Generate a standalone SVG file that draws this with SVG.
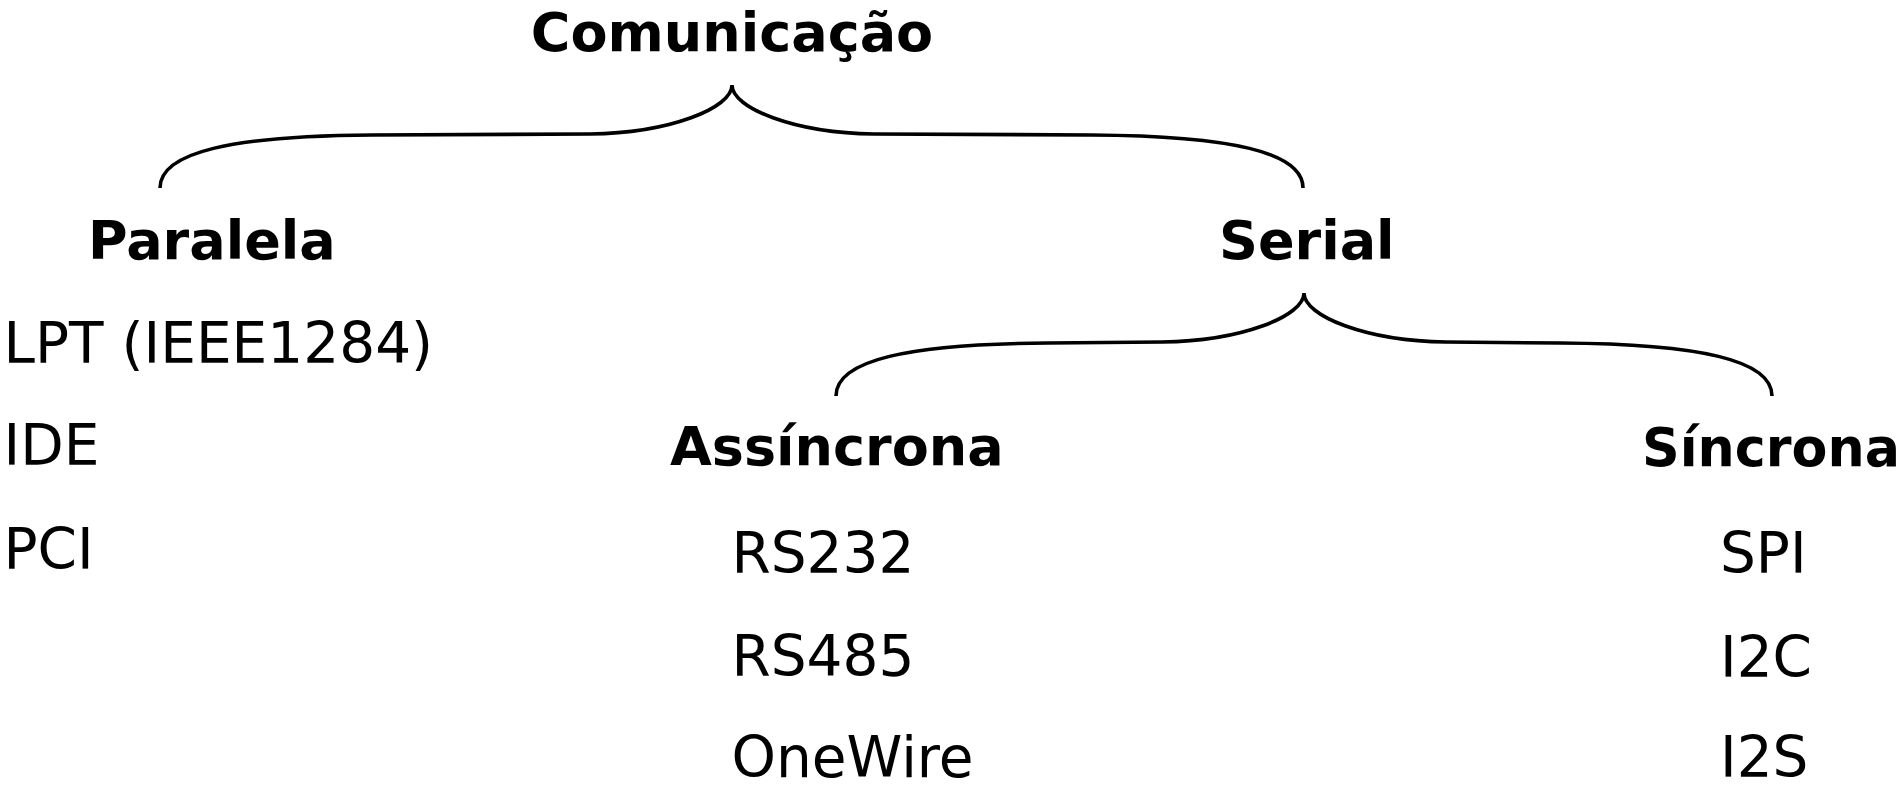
<svg xmlns="http://www.w3.org/2000/svg" width="1902" height="786" viewBox="0 0 1902 786">
  <style>
    .head { font-family: "DejaVu Sans", "Liberation Sans", sans-serif; font-weight: bold; font-size: 54px; fill: #000; }
    .item { font-family: "DejaVu Sans", "Liberation Sans", sans-serif; font-size: 56.5px; fill: #000; }
    .brace { fill: none; stroke: #000; stroke-width: 3.6; }
  </style>
  <rect width="1902" height="786" fill="#fff"/>

  <!-- curly braces linking each category to its subdivisions -->
  <g id="connectors">
    <path class="brace" d="M160,188 C160,152 232,136 372,135 L590,134 C670,133 732,108 732,85 C732,108 794,133 874,134 L1091,135 C1231,136 1303,152 1303,188"/>
    <path class="brace" d="M836,396 C836,360 908,344 1048,343 L1162,342 C1242,341 1304,316 1304,293 C1304,316 1366,341 1446,342 L1560,343 C1700,344 1772,360 1772,396"/>
  </g>

  <g id="comunicacao">
    <text class="head" x="732" y="51" text-anchor="middle">Comunicação</text>
  </g>

  <g id="paralela">
    <text class="head" x="88" y="259">Paralela</text>
    <text class="item" x="3.5" y="363">LPT (IEEE1284)</text>
    <text class="item" x="3.5" y="465">IDE</text>
    <text class="item" x="3.5" y="569">PCI</text>
  </g>

  <g id="serial">
    <text class="head" x="1219" y="259">Serial</text>
  </g>

  <g id="assincrona">
    <text class="head" x="670" y="465">Assíncrona</text>
    <text class="item" x="731.5" y="573">RS232</text>
    <text class="item" x="731.5" y="676">RS485</text>
    <text class="item" x="731.5" y="777">OneWire</text>
  </g>

  <g id="sincrona">
    <text class="head" x="1642" y="466" textLength="258" lengthAdjust="spacingAndGlyphs">Síncrona</text>
    <text class="item" x="1720" y="573">SPI</text>
    <text class="item" x="1720" y="677">I2C</text>
    <text class="item" x="1720" y="777">I2S</text>
  </g>
</svg>
